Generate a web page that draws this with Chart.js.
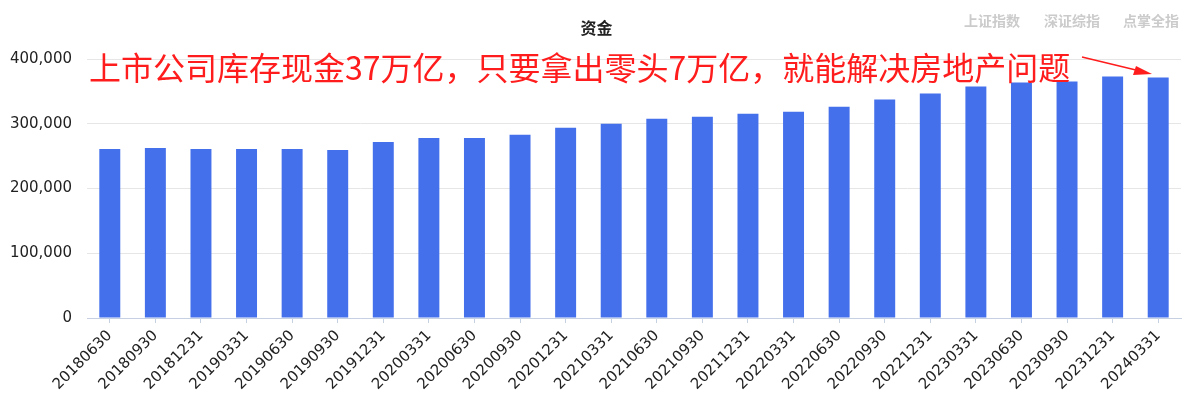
<!DOCTYPE html>
<html>
<head>
<meta charset="utf-8">
<script src="https://cdn.jsdelivr.net/npm/chart.js@4"></script>
<style>
  body { margin: 0; background: #fff; }
  #wrap { position: relative; width: 1193px; height: 409px; }
  #c { position: absolute; left: 0; top: 0; }
  .t { position: absolute; font-family: "Noto Sans CJK SC", sans-serif; white-space: nowrap; }
  #title { left: 0; width: 1193px; top: 15px; text-align: center; font-size: 16px; font-weight: bold; color: #222; }
  .btn { top: 10px; font-size: 14px; font-weight: bold; color: #cbcbcb; }
</style>
</head>
<body>
<div id="wrap">
  <canvas id="c" width="1193" height="409"></canvas>
  <div class="t" id="title">资金</div>
  <div class="t btn" style="left:964px">上证指数</div>
  <div class="t btn" style="left:1044px">深证综指</div>
  <div class="t btn" style="left:1123px">点掌全指</div>
</div>
<script>
const kategori = ['20180630','20180930','20181231','20190331','20190630','20190930','20191231','20200331',
  '20200630','20200930','20201231','20210331','20210630','20210930','20211231','20220331',
  '20220630','20220930','20221231','20230331','20230630','20230930','20231231','20240331'];
const nilaiDana = [261000, 262500, 261000, 261000, 261000, 259600, 272000, 278000,
  278000, 283000, 293800, 300000, 307800, 311000, 315600, 318700,
  326400, 337300, 346600, 357500, 363700, 365300, 373100, 371500];
const catatan = '上市公司库存现金37万亿，只要拿出零头7万亿，就能解决房地产问题';

const fontUtama = '"Noto Sans CJK SC", sans-serif';
const fontAngka = '"DejaVu Sans", sans-serif';

const pluginCatatan = {
  id: 'catatan',
  afterDraw(chart) {
    const ctx = chart.ctx;
    ctx.save();
    ctx.fillStyle = '#ff1c1c';
    ctx.font = '32px ' + fontUtama;
    ctx.textBaseline = 'alphabetic';
    ctx.fillText(catatan, 89, 80);
    // panah
    ctx.strokeStyle = '#ff1c1c';
    ctx.lineWidth = 1.5;
    ctx.beginPath();
    ctx.moveTo(1082, 57);
    ctx.lineTo(1140, 71);
    ctx.stroke();
    ctx.beginPath();
    ctx.moveTo(1152, 74);
    ctx.lineTo(1136, 66);
    ctx.lineTo(1133, 75);
    ctx.closePath();
    ctx.fillStyle = '#ff1c1c';
    ctx.fill();
    ctx.restore();
  }
};

new Chart(document.getElementById('c'), {
  type: 'bar',
  data: {
    labels: kategori,
    datasets: [{
      label: '资金',
      data: nilaiDana,
      backgroundColor: '#4570ec',
      barPercentage: 0.46,
      categoryPercentage: 1
    }]
  },
  options: {
    responsive: false,
    animation: false,
    layout: { padding: { top: 59, right: 12, left: 0, bottom: 0 } },
    plugins: {
      legend: { display: false },
      tooltip: { enabled: false },
      title: { display: false }
    },
    scales: {
      x: {
        offset: true,
        grid: { offset: false, drawOnChartArea: false, drawTicks: true, tickLength: 5, color: '#c6d0e3' },
        border: { color: '#c6d0e3' },
        ticks: {
          autoSkip: false,
          minRotation: 45,
          maxRotation: 45,
          padding: 4,
          color: '#222',
          font: { family: fontAngka, size: 15 }
        },
        afterFit(scale) { scale.height = 91; }
      },
      y: {
        min: 0,
        max: 400000,
        grid: { color: '#e6e6e6', drawTicks: false },
        border: { display: false },
        ticks: {
          stepSize: 100000,
          padding: 15,
          color: '#222',
          font: { family: fontAngka, size: 15 },
          callback: v => v.toLocaleString('en-US')
        },
        afterFit(scale) { scale.width = 87; }
      }
    }
  },
  plugins: [pluginCatatan]
});
</script>
</body>
</html>
